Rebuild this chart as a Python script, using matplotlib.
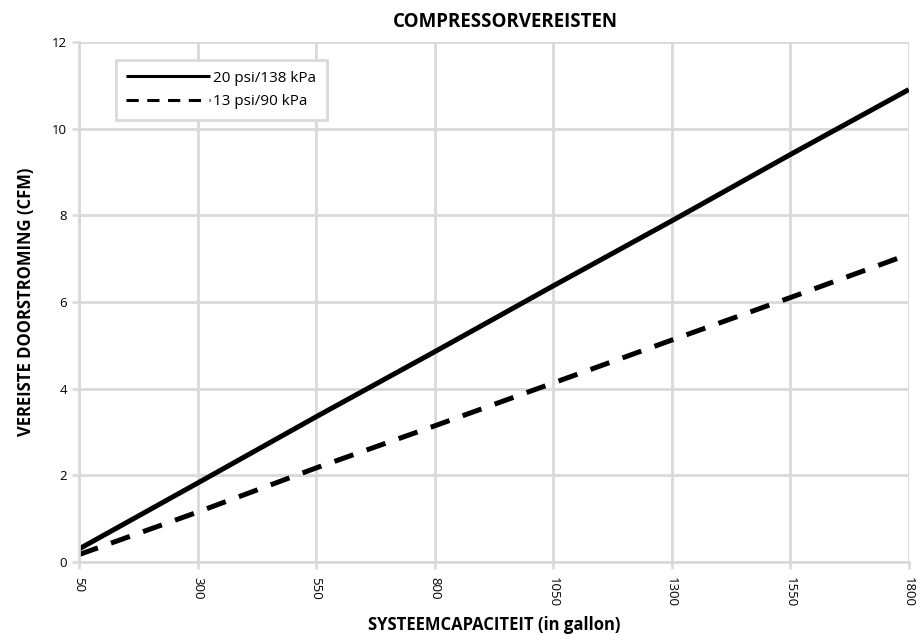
import matplotlib
matplotlib.use("Agg")
from matplotlib import pyplot as plt

# capacity in gallons
capacity = [50, 300, 550, 800, 1050, 1300, 1550, 1800]
# required flow (CFM)
flow_20psi = [0.3, 1.82, 3.35, 4.85, 6.37, 7.87, 9.4, 10.9]
flow_13psi = [0.17, 1.15, 2.17, 3.14, 4.13, 5.12, 6.1, 7.1]
labels = ["20 psi/138 kPa", "13 psi/90 kPa"]

plt.rcParams['font.family'] = ['Open Sans', 'DejaVu Sans']
grid_col = '#d9d9d9'

fig = plt.figure(figsize=(9.23, 6.35), dpi=100)
ax = fig.add_axes([0.0856, 0.115, 0.899, 0.819])

ax.plot(capacity, flow_20psi, color='black', lw=3.6, label=labels[0], solid_capstyle='butt')
ax.plot(capacity, flow_13psi, color='black', lw=3.6, dashes=(4, 2.8), label=labels[1])

ax.set_xlim(50, 1800)
ax.set_ylim(0, 12)
ax.set_xticks(capacity)
ax.set_xticklabels([str(c) for c in capacity], rotation=270, fontsize=9.5)
ax.set_yticks(range(0, 13, 2))
ax.tick_params(axis='y', labelsize=9.5, length=5, color=grid_col, width=1.8)
ax.tick_params(axis='x', length=5, color=grid_col, width=1.8, pad=6)

ax.grid(True, color=grid_col, lw=2)
ax.set_axisbelow(True)
for side in ['top', 'right']:
    ax.spines[side].set_visible(False)
for side in ['left', 'bottom']:
    ax.spines[side].set_color(grid_col)
    ax.spines[side].set_linewidth(2)

fig.text(0.548, 0.965, "COMPRESSORVEREISTEN", fontsize=13.5, fontweight='bold',
         ha='center', va='center')
ax.set_xlabel("SYSTEEMCAPACITEIT (in gallon)", fontsize=12, fontweight='bold', labelpad=6)
ax.set_ylabel("VEREISTE DOORSTROMING (CFM)", fontsize=12, fontweight='bold', labelpad=12)

leg = ax.legend(loc='upper left', bbox_to_anchor=(0.035, 0.98), fontsize=11,
                handlelength=5.5, fancybox=False, framealpha=1, borderpad=0.7,
                labelspacing=0.55, handletextpad=0.2)
leg.get_frame().set_edgecolor(grid_col)
leg.get_frame().set_linewidth(2)
for h in leg.get_lines():
    h.set_linewidth(2.2)

fig.savefig("out.png", dpi=100)
